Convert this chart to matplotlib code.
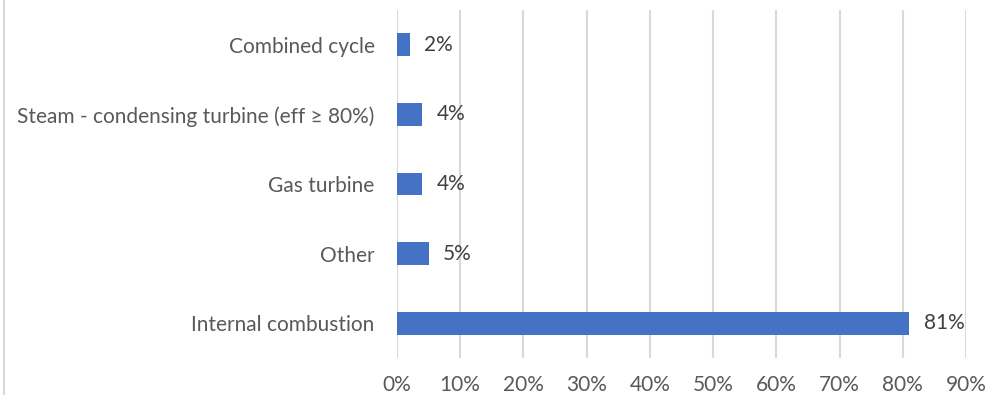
import matplotlib
matplotlib.use("Agg")
import matplotlib.pyplot as plt
from matplotlib.lines import Line2D

categories = ['Internal combustion', 'Other', 'Gas turbine',
              'Steam - condensing turbine (eff \u2265 80%)', 'Combined cycle']
shares = [81, 5, 4, 4, 2]
xticks = [0, 10, 20, 30, 40, 50, 60, 70, 80, 90]

plt.rcParams['font.family'] = ['Lato', 'DejaVu Sans']

fig = plt.figure(figsize=(9.87, 3.95), dpi=100)
ax = fig.add_axes([0.4022, 0.0937, 0.5765, 0.881])

ax.barh(range(len(categories)), shares, height=0.33, color='#4472C4', zorder=3)

# value labels to the right of each bar
for i, v in enumerate(shares):
    ax.text(v + 2.3, i, f'{v}%', va='center', ha='left',
            fontsize=15, color='#404040')

ax.set_xlim(0, 90)
ax.set_ylim(-0.5, 4.5)
ax.set_xticks(xticks)
ax.set_xticklabels([f'{t}%' for t in xticks])
ax.set_yticks(range(len(categories)))
ax.set_yticklabels(categories)
ax.tick_params(axis='both', length=0, labelsize=15, colors='#595959')
ax.tick_params(axis='y', pad=16)
ax.tick_params(axis='x', pad=12)
ax.grid(axis='x', color='#d9d9d9', linewidth=1.5, zorder=0)
for s in ax.spines.values():
    s.set_visible(False)

# thin frame edge on the left side
fig.add_artist(Line2D([0.004, 0.004], [0, 1], color='#d9d9d9', linewidth=1.5,
                      transform=fig.transFigure))

fig.savefig('out.png', dpi=100)
